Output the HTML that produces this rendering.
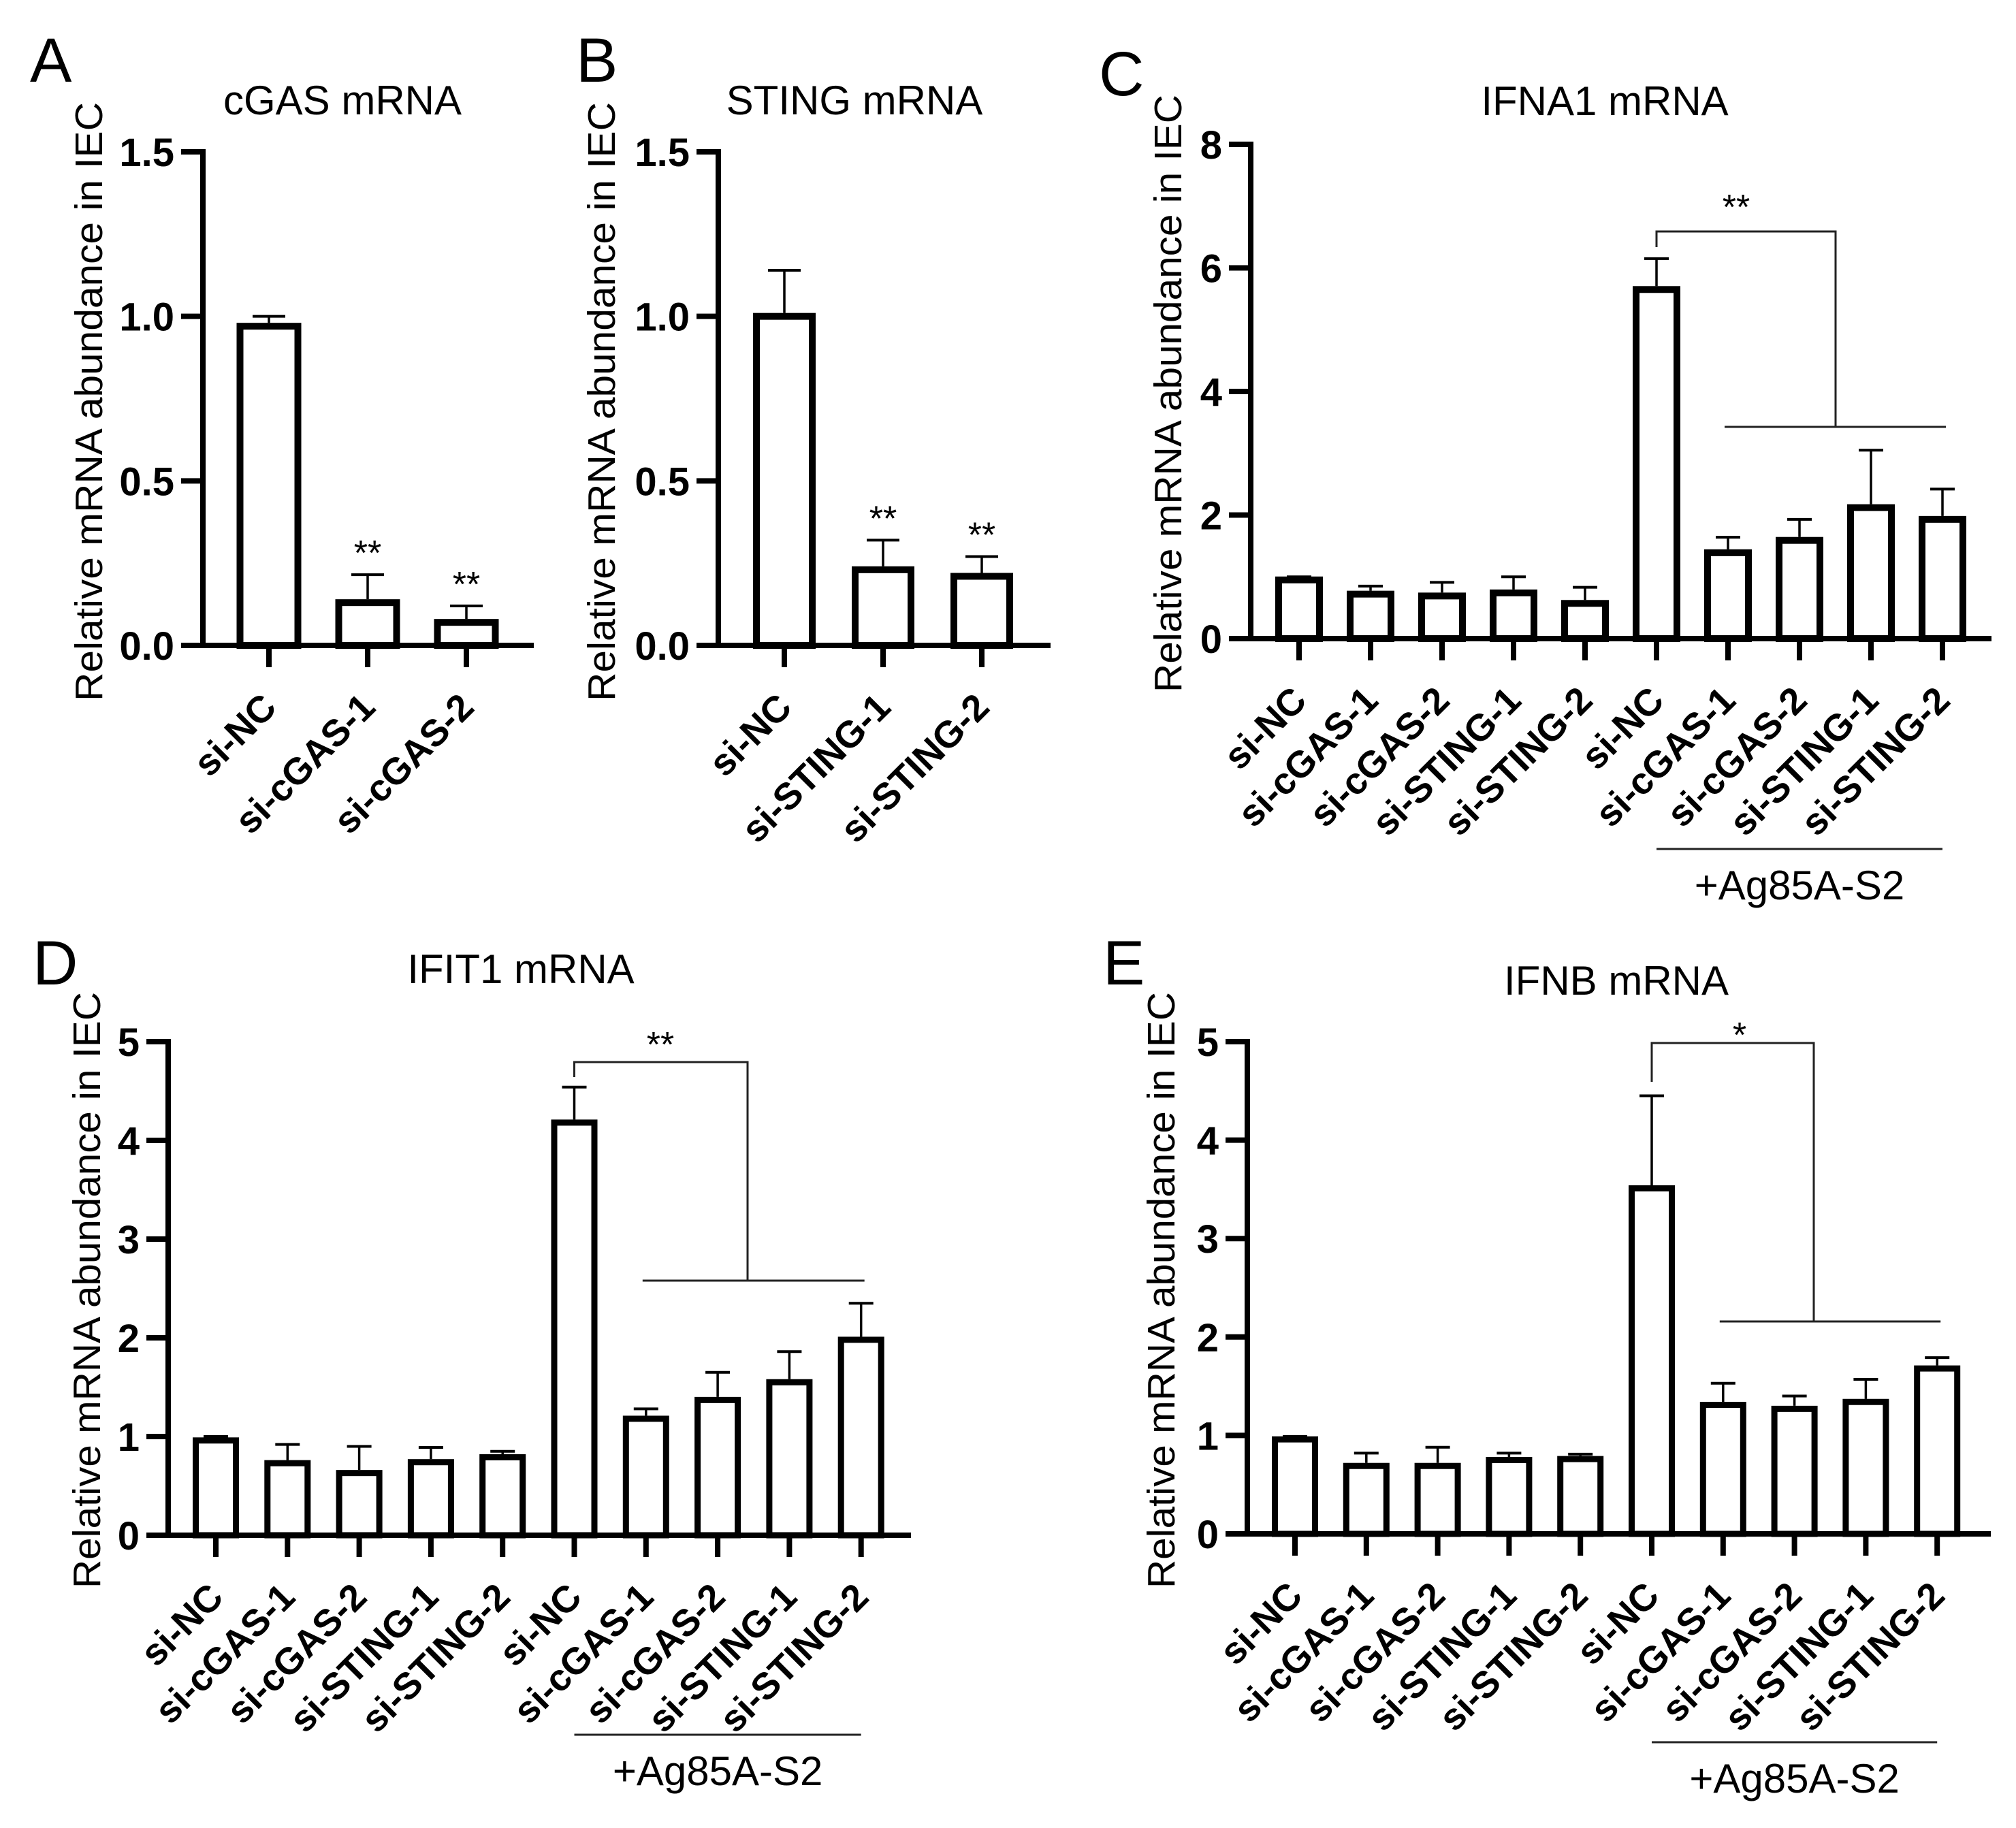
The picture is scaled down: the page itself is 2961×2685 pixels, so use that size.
<!DOCTYPE html>
<html>
<head>
<meta charset="utf-8">
<style>
  html,body{margin:0;padding:0;background:#fff;}
  svg{display:block;}
  text{font-family:"Liberation Sans",Arial,sans-serif;fill:#000;}
  .tick{font-weight:bold;font-size:58px;}
  .xl{font-weight:bold;font-size:55px;}
  .title{font-size:60px;}
  .ylab{font-size:57px;}
  .letter{font-size:92px;}
  .sig{font-size:52px;}
  .grp{font-size:60px;}
</style>
</head>
<body>
<svg id="fig" xmlns="http://www.w3.org/2000/svg" width="2961" height="2685" viewBox="0 0 2961 2685"></svg>
<script>
// ---- Data arrays ----
const aCats = ["si-NC","si-cGAS-1","si-cGAS-2"];
const aVals = [0.97,0.13,0.07];
const aErr  = [1.0,0.215,0.12];
const aTicks = [0,0.5,1.0,1.5];
const aTickLabels = ["0.0","0.5","1.0","1.5"];
const aSig = ["","**","**"];

const bCats = ["si-NC","si-STING-1","si-STING-2"];
const bVals = [1.0,0.23,0.21];
const bErr  = [1.14,0.32,0.27];
const bTicks = [0,0.5,1.0,1.5];
const bTickLabels = ["0.0","0.5","1.0","1.5"];
const bSig = ["","**","**"];

const longCats = ["si-NC","si-cGAS-1","si-cGAS-2","si-STING-1","si-STING-2","si-NC","si-cGAS-1","si-cGAS-2","si-STING-1","si-STING-2"];

const cVals = [0.95,0.72,0.69,0.74,0.57,5.65,1.39,1.59,2.12,1.93];
const cErr  = [1.0,0.85,0.91,1.0,0.83,6.15,1.64,1.93,3.05,2.42];
const cTicks = [0,2,4,6,8];
const cTickLabels = ["0","2","4","6","8"];

const dVals = [0.96,0.73,0.63,0.74,0.79,4.18,1.18,1.37,1.55,1.98];
const dErr  = [1.0,0.92,0.9,0.89,0.85,4.54,1.28,1.65,1.86,2.35];
const dTicks = [0,1,2,3,4,5];
const dTickLabels = ["0","1","2","3","4","5"];

const eVals = [0.96,0.69,0.69,0.75,0.76,3.51,1.31,1.27,1.34,1.68];
const eErr  = [0.99,0.82,0.88,0.82,0.81,4.45,1.53,1.40,1.57,1.79];
const eTicks = [0,1,2,3,4,5];
const eTickLabels = ["0","1","2","3","4","5"];

const NS = "http://www.w3.org/2000/svg";
const svg = document.getElementById("fig");

function mk(tag, attrs, parent){
  const el = document.createElementNS(NS, tag);
  for (const k in attrs) el.setAttribute(k, attrs[k]);
  (parent||svg).appendChild(el);
  return el;
}

function drawPanel(p){
  const g = mk("g", {});
  
  
  const yS = v => p.y0 - (v - 0) * (p.y0 - p.yTop) / (p.tickVals[p.tickVals.length-1]);
  const xS = i => p.x1 + i * p.step;

  const L = mk("text", {x:p.letterX, y:p.letterY, class:"letter"}, g);
  L.textContent = p.letter;
  
  

  const T = mk("text", {x:p.titleX, y:p.titleY, class:"title", "text-anchor":"middle"}, g);
  T.textContent = p.title;
  
  

  const Y = mk("text", {x:0, y:0, class:"ylab", "text-anchor":"middle",
    transform:`translate(${p.ylabX},${p.ylabY}) rotate(-90)`, textLength:p.ylabLen, lengthAdjust:"spacingAndGlyphs"}, g);
  Y.textContent = "Relative mRNA abundance in IEC";
  
  

  p.vals.forEach((v, i) => {
    const cx = xS(i);
    const yt = yS(v);
    const r = mk("rect", {x:cx - p.bw/2, y:yt, width:p.bw, height:p.y0 - yt, fill:"#fff", stroke:"#000", "stroke-width":p.bs}, g);
    
    
    const ye = yS(p.err[i]);
    const s = mk("line", {x1:cx, y1:yt - p.bs/2, x2:cx, y2:ye, stroke:"#000", "stroke-width":3.5}, g);
    
    
    const c = mk("line", {x1:cx - p.cap/2, y1:ye, x2:cx + p.cap/2, y2:ye, stroke:"#000", "stroke-width":4}, g);
    
    
    if (p.sig && p.sig[i]) {
      const st = mk("text", {x:cx, y:ye - 14, class:"sig", "text-anchor":"middle"}, g);
      st.textContent = p.sig[i];
      
      
    }
    const t = mk("line", {x1:cx, y1:p.y0, x2:cx, y2:p.y0 + 32, stroke:"#000", "stroke-width":8}, g);
    
    
    const xl = mk("text", {x:0, y:0, class:"xl", "text-anchor":"end",
      transform:`translate(${cx + 14},${p.y0 + 94}) rotate(-45)`}, g);
    xl.textContent = p.cats[i];
    
    
  });

  const ya = mk("line", {x1:p.xAxis, y1:p.yTop - 4, x2:p.xAxis, y2:p.y0 + 4, stroke:"#000", "stroke-width":8}, g);
  
  
  const xa = mk("line", {x1:p.xAxis - 4, y1:p.y0, x2:p.xEnd, y2:p.y0, stroke:"#000", "stroke-width":8}, g);
  
  

  p.tickVals.forEach((tv, k) => {
    const yy = yS(tv);
    const tl = mk("line", {x1:p.xAxis - 32, y1:yy, x2:p.xAxis, y2:yy, stroke:"#000", "stroke-width":8}, g);
    
    
    const tt = mk("text", {x:p.xAxis - 42, y:yy + 21, class:"tick", "text-anchor":"end"}, g);
    tt.textContent = p.tickLabels[k];
    
    
  });

  if (p.br) {
    const b = p.br;
    const lx = xS(5);
    const pts = `${lx},${b.dropY} ${lx},${b.top} ${b.rx},${b.top} ${b.rx},${b.hy}`;
    const pl = mk("polyline", {points:pts, fill:"none", stroke:"#222", "stroke-width":3}, g);
    
    
    const hl = mk("line", {x1:xS(6) - 5, y1:b.hy, x2:xS(9) + 5, y2:b.hy, stroke:"#222", "stroke-width":3}, g);
    
    
    const bt = mk("text", {x:b.sx, y:b.sy, class:"sig", "text-anchor":"middle"}, g);
    bt.textContent = b.label;
    
    
    const gl = mk("line", {x1:xS(5), y1:b.gy, x2:xS(9), y2:b.gy, stroke:"#222", "stroke-width":3}, g);
    
    
    const gt = mk("text", {x:(xS(5)+xS(9))/2, y:b.gy + 74, class:"grp", "text-anchor":"middle"}, g);
    gt.textContent = "+Ag85A-S2";
    
    
  }
}

drawPanel({id:"a", letter:"A", letterX:44, letterY:120, title:"cGAS mRNA", titleX:503, titleY:168,
  ylabX:150, ylabY:590, ylabLen:880,
  cats:aCats, vals:aVals, err:aErr, sig:aSig, tickVals:aTicks, tickLabels:aTickLabels,
  xAxis:298, xEnd:784, y0:948, yTop:223, x1:395, step:145, bw:85, bs:10, cap:48});

drawPanel({id:"b", letter:"B", letterX:846, letterY:120, title:"STING mRNA", titleX:1255, titleY:168,
  ylabX:903, ylabY:590, ylabLen:880,
  cats:bCats, vals:bVals, err:bErr, sig:bSig, tickVals:bTicks, tickLabels:bTickLabels,
  xAxis:1055, xEnd:1543, y0:948, yTop:223, x1:1152, step:145, bw:82, bs:10, cap:48});

drawPanel({id:"c", letter:"C", letterX:1614, letterY:140, title:"IFNA1 mRNA", titleX:2357, titleY:169,
  ylabX:1735, ylabY:578, ylabLen:878,
  cats:longCats, vals:cVals, err:cErr, tickVals:cTicks, tickLabels:cTickLabels,
  xAxis:1837, xEnd:2925, y0:938, yTop:212, x1:1908, step:105, bw:60, bs:10, cap:36,
  br:{top:340, rx:2696, hy:627, dropY:363, sx:2550, sy:322, label:"**", gy:1247}});

drawPanel({id:"d", letter:"D", letterX:48, letterY:1446, title:"IFIT1 mRNA", titleX:765, titleY:1444,
  ylabX:147, ylabY:1895, ylabLen:876,
  cats:longCats, vals:dVals, err:dErr, tickVals:dTicks, tickLabels:dTickLabels,
  xAxis:247, xEnd:1338, y0:2255, yTop:1530, x1:317, step:105.3, bw:59, bs:9, cap:36,
  br:{top:1560, rx:1098, hy:1881, dropY:1582, sx:970, sy:1552, label:"**", gy:2548}});

drawPanel({id:"e", letter:"E", letterX:1620, letterY:1446, title:"IFNB mRNA", titleX:2374, titleY:1461,
  ylabX:1725, ylabY:1895, ylabLen:876,
  cats:longCats, vals:eVals, err:eErr, tickVals:eTicks, tickLabels:eTickLabels,
  xAxis:1832, xEnd:2924, y0:2253, yTop:1530, x1:1902, step:104.8, bw:59, bs:9, cap:36,
  br:{top:1532, rx:2664, hy:1941, dropY:1589, sx:2555, sy:1538, label:"*", gy:2559}});
</script>
</body>
</html>
